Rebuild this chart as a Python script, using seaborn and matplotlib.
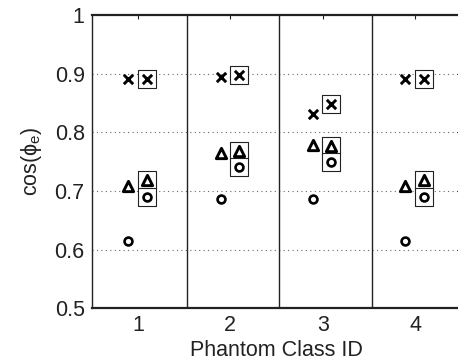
import matplotlib
matplotlib.use("Agg")
import matplotlib.pyplot as plt
import seaborn as sns
import pandas as pd

# Phantom classes on the x axis
classes = [1, 2, 3, 4]
tick_labels = ["1", "2", "3", "4"]
y_ticks = [0.5, 0.6, 0.7, 0.8, 0.9, 1.0]
y_tick_labels = ["0.5", "0.6", "0.7", "0.8", "0.9", "1"]

# plain markers (left of each class)
cross_plain = [0.891, 0.894, 0.831, 0.891]
tri_plain = [0.709, 0.764, 0.779, 0.709]
circ_plain = [0.615, 0.686, 0.686, 0.615]

# boxed markers (right of each class)
cross_boxed = [0.891, 0.898, 0.848, 0.891]
tri_boxed = [0.718, 0.768, 0.777, 0.718]
circ_boxed = [0.690, 0.741, 0.750, 0.690]

sns.set_theme(style="white")
plt.rcParams["font.family"] = ["Liberation Sans", "DejaVu Sans"]
plt.rcParams["mathtext.fontset"] = "custom"
plt.rcParams["mathtext.rm"] = "Liberation Sans"
plt.rcParams["mathtext.it"] = "Liberation Sans"

fig = plt.figure(figsize=(4.58, 3.6), dpi=100)
ax = fig.add_axes([0.2002, 0.1436, 0.807, 0.8147])

left_off, right_off = -0.105, 0.095


def frame(vals, off):
    return pd.DataFrame({"cls": [c + off for c in classes], "val": vals})


# horizontal dotted guides
for yv in y_ticks[1:-1]:
    ax.axhline(yv, color="#666666", ls=(0, (1, 3)), lw=0.8, zorder=0)

# class separators
for c in classes[:-1]:
    ax.axvline(c + 0.53, color="#222222", lw=1.0, zorder=1)

box_kw = dict(marker="s", s=150, facecolor="white", edgecolor="#222222",
              linewidth=0.8, zorder=3)
for vals in (cross_boxed, tri_boxed, circ_boxed):
    sns.scatterplot(data=frame(vals, right_off), x="cls", y="val", ax=ax, **box_kw)

x_kw = dict(marker="x", s=45, color="black", linewidth=2.1, zorder=4)
tri_kw = dict(marker="^", s=55, facecolor="white", edgecolor="black",
              linewidth=2.1, zorder=4)
o_kw = dict(marker="o", s=32, facecolor="white", edgecolor="black",
            linewidth=1.9, zorder=4)

for off, cr, tr, ci in ((left_off, cross_plain, tri_plain, circ_plain),
                        (right_off, cross_boxed, tri_boxed, circ_boxed)):
    sns.scatterplot(data=frame(cr, off), x="cls", y="val", ax=ax, **x_kw)
    sns.scatterplot(data=frame(tr, off), x="cls", y="val", ax=ax, **tri_kw)
    sns.scatterplot(data=frame(ci, off), x="cls", y="val", ax=ax, **o_kw)

ax.set_xlim(0.5, 4.5)
ax.set_ylim(0.5, 1.0)
ax.set_xticks(classes)
ax.set_xticklabels(tick_labels)
ax.set_yticks(y_ticks)
ax.set_yticklabels(y_tick_labels)
ax.tick_params(direction="in", length=3, width=0.8, color="#222222",
               labelsize=15.5, labelcolor="#222222", top=True, right=True,
               pad=5)
for side in ("left", "bottom", "top", "right"):
    ax.spines[side].set_color("#222222")
    ax.spines[side].set_linewidth(1.0)
ax.spines["bottom"].set_linewidth(1.6)
ax.spines["top"].set_linewidth(1.6)

ax.set_xlabel("Phantom Class ID", fontsize=15.5, color="#222222", labelpad=3)
ax.set_ylabel(r"cos($\phi_e$)", fontsize=15.5, color="#222222", labelpad=8)

fig.savefig("out.png", dpi=100)
